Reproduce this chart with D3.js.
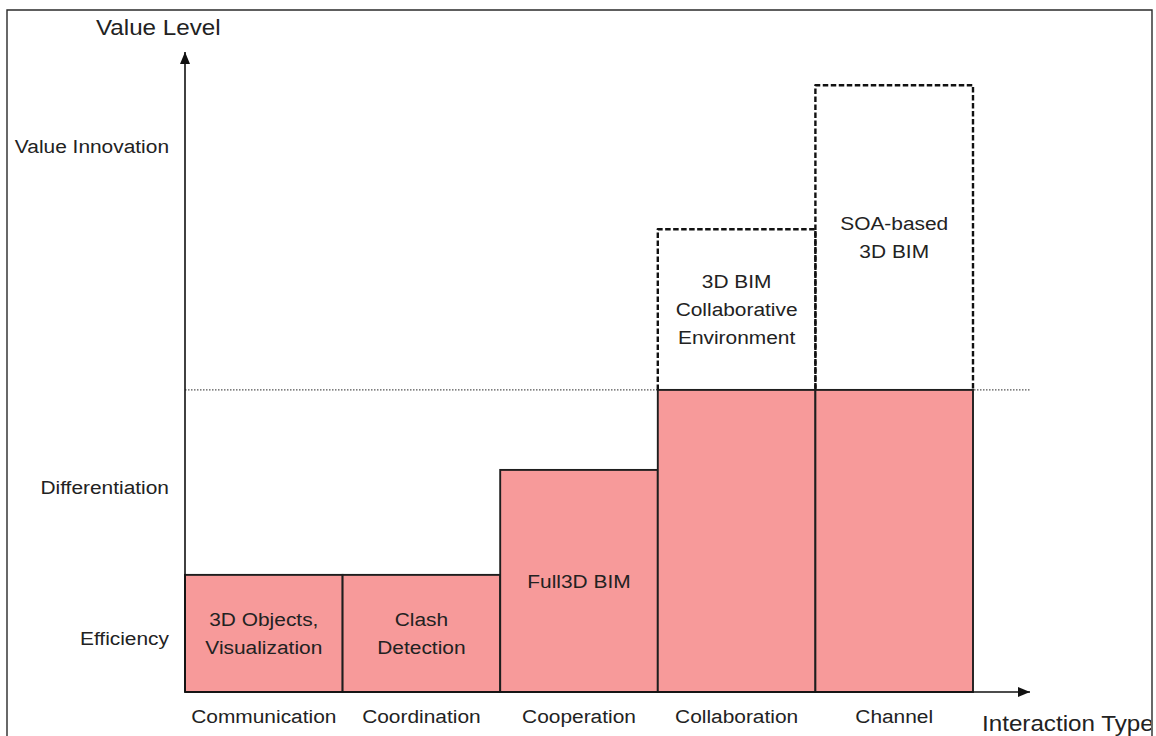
<!DOCTYPE html>
<html>
<head>
<meta charset="utf-8">
<script src="https://cdn.jsdelivr.net/npm/d3@7/dist/d3.min.js"></script>
<style>
  html, body { margin: 0; padding: 0; background: #fff; }
  svg { display: block; }
  text { font-family: "Liberation Sans", Arial, Helvetica, sans-serif; fill: #222; }
</style>
</head>
<body>
<svg id="chart" width="1156" height="736"></svg>
<script>
// Interaction types along the horizontal axis
const categories = ["Communication", "Coordination", "Cooperation", "Collaboration", "Channel"];
// Achieved value level of each interaction type (solid bars)
const achievedLevel = [18.3, 18.3, 34.7, 47.2, 47.2];
// Potential value level reached by the emerging platforms (dashed outlines)
const potentialLevel = [null, null, null, 72.3, 94.8];
// Text shown inside the top segment of each column
const columnLabels = [
  ["3D Objects,", "Visualization"],
  ["Clash", "Detection"],
  ["Full3D BIM"],
  ["3D BIM", "Collaborative", "Environment"],
  ["SOA-based", "3D BIM"]
];
// Named levels on the vertical axis
const levelNames = ["Efficiency", "Differentiation", "Value Innovation"];
const levelValues = [8.4, 32.0, 85.2];
// Boundary between present-day and future value
const thresholdLevel = 47.2;

const svg = d3.select("#chart");
const W = 1156, H = 736;
const stretch = 1.1;      // slightly wide lettering
const labelSize = 19;
const titleSize = 22;

const x0 = 185, x1 = 973, xArrow = 1030;
const y = d3.scaleLinear().domain([0, 100]).range([692, 52]);
const x = d3.scaleBand().domain(categories).range([x0, x1]).padding(0);

// Outer frame (open at the bottom)
svg.append("path")
  .attr("d", `M7,${H + 2} L7,10 L1152,10 L1152,${H + 2}`)
  .attr("fill", "none").attr("stroke", "#2a2a2a").attr("stroke-width", 1.4);

// Arrowhead marker
const defs = svg.append("defs");
defs.append("marker")
  .attr("id", "arrow").attr("viewBox", "0 0 12 10")
  .attr("refX", 12).attr("refY", 5)
  .attr("markerWidth", 12).attr("markerHeight", 10)
  .attr("markerUnits", "userSpaceOnUse")
  .attr("orient", "auto")
  .append("path").attr("d", "M0,0 L12,5 L0,10 Z").attr("fill", "#111");
defs.append("clipPath").attr("id", "frameClip")
  .append("rect").attr("x", 8).attr("y", 11).attr("width", 1143).attr("height", H);

// Dotted threshold line
svg.append("line")
  .attr("x1", x0).attr("x2", xArrow)
  .attr("y1", y(thresholdLevel)).attr("y2", y(thresholdLevel))
  .attr("stroke", "#555").attr("stroke-width", 1.4)
  .attr("stroke-dasharray", "1.5,1.5");

// Dashed outlines for potential levels
const potential = categories.map((c, i) => ({ c, v: potentialLevel[i], base: achievedLevel[i] }))
  .filter(d => d.v != null);
svg.append("g").selectAll("path").data(potential).join("path")
  .attr("d", d => {
    const l = x(d.c), r = x(d.c) + x.bandwidth();
    return `M${l},${y(d.base)} L${l},${y(d.v)} L${r},${y(d.v)} L${r},${y(d.base)}`;
  })
  .attr("fill", "none").attr("stroke", "#111").attr("stroke-width", 2.4)
  .attr("stroke-dasharray", "5.5,2.5").attr("stroke-linejoin", "round");

// Solid bars
svg.append("g").selectAll("rect").data(categories).join("rect")
  .attr("x", d => x(d))
  .attr("y", (d, i) => y(achievedLevel[i]))
  .attr("width", x.bandwidth())
  .attr("height", (d, i) => y(0) - y(achievedLevel[i]))
  .attr("fill", "#f79a9a")
  .attr("stroke", "#1e1e1e").attr("stroke-width", 1.9);

// Column labels, centred in the topmost segment of each column
const lineH = 28;
const capH = labelSize * 0.72;
categories.forEach((c, i) => {
  const top = potentialLevel[i] != null ? y(potentialLevel[i]) : y(achievedLevel[i]);
  const bottom = potentialLevel[i] != null ? y(achievedLevel[i]) : y(0);
  const mid = (top + bottom) / 2;
  const lines = columnLabels[i];
  const first = mid - (lines.length - 1) * lineH / 2 + capH / 2;
  const cx = x(c) + x.bandwidth() / 2;
  lines.forEach((t, k) => {
    svg.append("text")
      .attr("transform", `translate(${cx},${first + k * lineH}) scale(${stretch},1)`)
      .attr("text-anchor", "middle")
      .attr("font-size", labelSize)
      .text(t);
  });
});

// Vertical axis: named levels
const yAxis = d3.axisLeft(y).tickValues(levelValues)
  .tickFormat((d, i) => levelNames[i]).tickSize(0);
const gy = svg.append("g").attr("transform", `translate(${x0},0)`).call(yAxis);
gy.select(".domain").remove();
gy.selectAll("text")
  .attr("font-size", labelSize)
  .attr("font-family", null)
  .attr("x", -16 / stretch)
  .attr("dy", "0.32em")
  .attr("transform", `scale(${stretch},1)`)
  .style("fill", "#222");

// Horizontal axis: interaction types
const xAxis = d3.axisBottom(x).tickSize(0);
const gx = svg.append("g").attr("transform", `translate(0,${y(0)})`).call(xAxis);
gx.select(".domain").remove();
gx.selectAll("text")
  .attr("font-size", labelSize)
  .attr("font-family", null)
  .attr("y", 31)
  .attr("dy", null)
  .attr("transform", `scale(${stretch},1)`)
  .style("fill", "#222");

// Axis lines with arrows
svg.append("line")
  .attr("x1", x0).attr("y1", y(0)).attr("x2", x0).attr("y2", y(100))
  .attr("stroke", "#111").attr("stroke-width", 1.6).attr("marker-end", "url(#arrow)");
svg.append("line")
  .attr("x1", x0).attr("y1", y(0)).attr("x2", xArrow).attr("y2", y(0))
  .attr("stroke", "#111").attr("stroke-width", 1.6).attr("marker-end", "url(#arrow)");

// Axis titles
svg.append("text")
  .attr("transform", `translate(96,35) scale(${stretch},1)`)
  .attr("font-size", titleSize)
  .text("Value Level");
svg.append("g").attr("clip-path", "url(#frameClip)")
  .append("text")
  .attr("transform", `translate(982,731) scale(${stretch},1)`)
  .attr("font-size", titleSize)
  .text("Interaction Type");
</script>
</body>
</html>
